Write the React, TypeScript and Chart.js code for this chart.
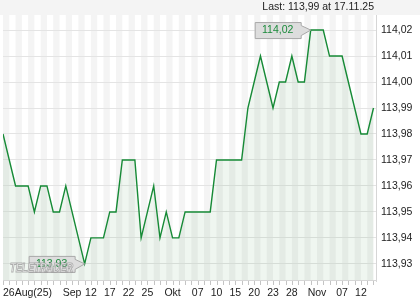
import React, { useEffect, useRef } from "react";
import { Chart, registerables } from "chart.js";

Chart.register(...registerables);

const dates = [
  "25.08", "26.08", "27.08", "28.08", "29.08",
  "01.09", "02.09", "03.09", "04.09", "05.09",
  "08.09", "09.09", "10.09", "11.09", "12.09",
  "15.09", "16.09", "17.09", "18.09", "19.09",
  "22.09", "23.09", "24.09", "25.09", "26.09",
  "29.09", "30.09", "01.10", "02.10", "03.10",
  "06.10", "07.10", "08.10", "09.10", "10.10",
  "13.10", "14.10", "15.10", "16.10", "17.10",
  "20.10", "21.10", "22.10", "23.10", "24.10",
  "27.10", "28.10", "29.10", "30.10", "31.10",
  "03.11", "04.11", "05.11", "06.11", "07.11",
  "10.11", "11.11", "12.11", "13.11", "14.11",
];

const values = [
  113.98, 113.97, 113.96, 113.96, 113.96,
  113.95, 113.96, 113.96, 113.95, 113.95,
  113.96, 113.95, 113.94, 113.93, 113.94,
  113.94, 113.94, 113.95, 113.95, 113.97,
  113.97, 113.97, 113.94, 113.95, 113.96,
  113.94, 113.95, 113.94, 113.94, 113.95,
  113.95, 113.95, 113.95, 113.95, 113.97,
  113.97, 113.97, 113.97, 113.97, 113.99,
  114.0, 114.01, 114.0, 113.99, 114.0,
  114.0, 114.01, 114.0, 114.0, 114.02,
  114.02, 114.02, 114.01, 114.01, 114.01,
  114.0, 113.99, 113.98, 113.98, 113.99,
];

const yTicks = [113.93, 113.94, 113.95, 113.96, 113.97, 113.98, 113.99, 114.0, 114.01, 114.02];

const xTickLabels = ["26Aug(25)", "Sep", "12", "17", "22", "25", "Okt", "07", "10", "15", "20", "23", "28", "Nov", "07", "12"];
const xTickIndex = [1, 11, 14, 17, 20, 23, 27, 31, 34, 37, 40, 43, 46, 50, 54, 57];

const lastText = "Last: 113,99 at 17.11.25";

const FONT = "10.5px 'Liberation Sans', Arial, sans-serif";
const fmt = (v: number) => v.toFixed(2).replace(".", ",");

const decorPlugin = {
  id: "decor",
  beforeDraw(chart: any) {
    const { ctx, chartArea, width } = chart;
    const xs = chart.scales.x;
    const { left, top, right, bottom } = chartArea;
    ctx.save();
    ctx.fillStyle = "#f4f4f4";
    ctx.fillRect(0, 0, width, top);
    for (let i = 0; i < dates.length; i += 2) {
      const x0 = xs.getPixelForValue(i);
      const x1 = Math.min(xs.getPixelForValue(i + 1), right);
      if (x1 > x0) ctx.fillRect(x0, top, x1 - x0, bottom - top);
    }
    ctx.restore();
  },
  afterDraw(chart: any) {
    const { ctx, chartArea } = chart;
    const xs = chart.scales.x;
    const ys = chart.scales.y;
    const { left, top, right, bottom } = chartArea;
    ctx.save();
    // axis lines
    ctx.strokeStyle = "#d6d6d6";
    ctx.lineWidth = 1;
    ctx.beginPath();
    ctx.moveTo(left, bottom + 0.5);
    ctx.lineTo(right + 1, bottom + 0.5);
    ctx.moveTo(right + 0.5, top);
    ctx.lineTo(right + 0.5, bottom + 2);
    ctx.stroke();
    // x tick marks
    ctx.strokeStyle = "#c4c4c4";
    ctx.beginPath();
    for (let i = 0; i < dates.length; i++) {
      const x = Math.round(xs.getPixelForValue(i)) + 0.5;
      ctx.moveTo(x, bottom + 1);
      ctx.lineTo(x, bottom + 5);
    }
    ctx.stroke();
    // x labels
    ctx.font = FONT;
    ctx.fillStyle = "#222";
    ctx.textBaseline = "middle";
    xTickLabels.forEach((t, k) => {
      const x = xs.getPixelForValue(xTickIndex[k]);
      const w = ctx.measureText(t).width;
      let lx = x - w / 2;
      if (lx < left) lx = left;
      ctx.textAlign = "left";
      ctx.fillText(t, lx, bottom + 13);
    });
    // last text
    ctx.textAlign = "right";
    ctx.fillStyle = "#222";
    ctx.fillText(lastText, right - 2, 7.5);

    // annotation boxes
    const drawBox = (idx: number) => {
      const tx = xs.getPixelForValue(idx);
      const ty = ys.getPixelForValue(values[idx]);
      const bw = 46, bh = 16;
      const bx = tx - 10 - bw;
      const by = ty - bh / 2;
      ctx.beginPath();
      ctx.moveTo(bx + 0.5, by + 0.5);
      ctx.lineTo(bx + bw + 0.5, by + 0.5);
      ctx.lineTo(bx + bw + 0.5, by + 3.5);
      ctx.lineTo(tx, ty);
      ctx.lineTo(bx + bw + 0.5, by + bh - 2.5);
      ctx.lineTo(bx + bw + 0.5, by + bh + 0.5);
      ctx.lineTo(bx + 0.5, by + bh + 0.5);
      ctx.closePath();
      ctx.fillStyle = "#dddddd";
      ctx.fill();
      ctx.strokeStyle = "#a8a8a8";
      ctx.stroke();
      ctx.fillStyle = "#1a8a3a";
      ctx.textAlign = "center";
      ctx.textBaseline = "middle";
      ctx.fillText(fmt(values[idx]), bx + bw / 2, ty + 0.5);
    };
    let maxI = 0, minI = 0;
    values.forEach((v, i) => {
      if (v > values[maxI]) maxI = i;
      if (v < values[minI]) minI = i;
    });
    drawBox(maxI);
    drawBox(minI);

    // watermark
    ctx.font = "italic bold 12px 'Liberation Sans', Arial, sans-serif";
    const wm = "TELETRADER";
    const ww = ctx.measureText(wm).width;
    ctx.translate(left + 7, bottom - 12);
    ctx.scale(63 / ww, 1.1);
    ctx.textAlign = "left";
    ctx.textBaseline = "middle";
    ctx.lineWidth = 1;
    ctx.fillStyle = "rgba(255,255,255,0.85)";
    ctx.fillText(wm, 0, 0);
    ctx.strokeStyle = "rgba(150,150,150,0.75)";
    ctx.strokeText(wm, 0, 0);
    ctx.restore();
  },
};

export default function App() {
  const ref = useRef<HTMLCanvasElement>(null);
  useEffect(() => {
    document.body.style.margin = "0";
    const canvas = ref.current;
    if (!canvas) return;
    const chart = new Chart(canvas, {
      type: "line",
      data: {
        datasets: [
          {
            data: values.map((v, i) => ({ x: i, y: v })),
            borderColor: "#168a36",
            borderWidth: 1.4,
            pointRadius: 0,
            tension: 0,
            fill: "start",
            backgroundColor: "rgba(40,130,60,0.075)",
          },
        ],
      },
      options: {
        responsive: false,
        animation: false,
        events: [],
        layout: { padding: { left: 3, top: 15, right: 0, bottom: 20 } },
        plugins: { legend: { display: false }, tooltip: { enabled: false } },
        scales: {
          x: { type: "linear", min: 0, max: 59.4, display: false },
          y: {
            type: "linear",
            position: "right",
            min: 113.9238,
            max: 114.0258,
            afterBuildTicks: (axis: any) => {
              axis.ticks = yTicks.map((v) => ({ value: v }));
            },
            afterFit: (s: any) => {
              s.width = 44;
            },
            ticks: {
              callback: (v: any) => fmt(Number(v)),
              font: { size: 10.5, family: "'Liberation Sans', Arial, sans-serif" },
              color: "#222",
              padding: 5,
            },
            grid: { color: "#e4e4e4", drawTicks: false },
            border: { display: false },
          },
        },
      },
      plugins: [decorPlugin],
    } as any);
    return () => chart.destroy();
  }, []);
  return (
    <div style={{ width: 420, height: 300 }}>
      <canvas ref={ref} width={420} height={300} style={{ display: "block" }} />
    </div>
  );
}
